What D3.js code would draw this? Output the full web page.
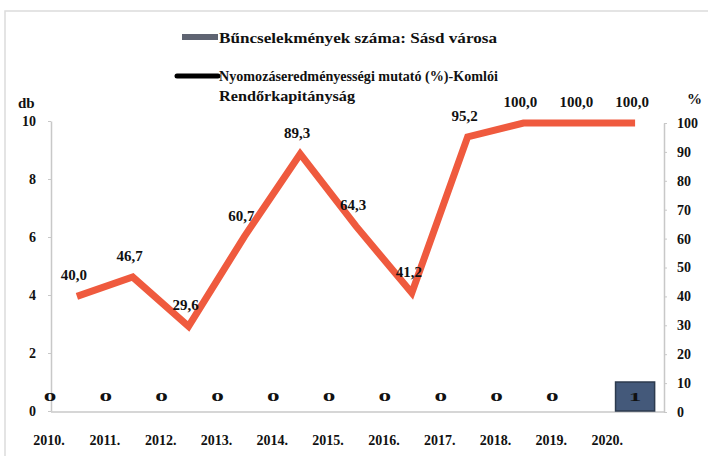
<!DOCTYPE html>
<html>
<head>
<meta charset="utf-8">
<script src="https://cdn.jsdelivr.net/npm/d3@7"></script>
<style>
  body { margin: 0; background: #fff; }
  svg { display: block; font-family: "Liberation Serif", "DejaVu Serif", serif; font-weight: bold; }
</style>
</head>
<body>
<svg width="708" height="456"></svg>
<script>
var years = ["2010.", "2011.", "2012.", "2013.", "2014.", "2015.", "2016.", "2017.", "2018.", "2019.", "2020."];
var crimes = [0, 0, 0, 0, 0, 0, 0, 0, 0, 0, 1];
var rate = [40.0, 46.7, 29.6, 60.7, 89.3, 64.3, 41.2, 95.2, 100.0, 100.0, 100.0];
var leftTicks = [0, 2, 4, 6, 8, 10];
var rightTicks = [0, 10, 20, 30, 40, 50, 60, 70, 80, 90, 100];
var crimeName = "Bűncselekmények száma: Sásd városa";
var rateName = ["Nyomozáseredményességi mutató (%)-Komlói", "Rendőrkapitányság"];

var svg = d3.select("svg");
var lineColor = "#ef5a3e";
var barColor = "#44597a";
var axisColor = "#c8c8c8";

var plotLeft = 51;
var plotRight = 664;
var plotBottom = 412;

var x = d3.scaleBand().domain(years).range([49, 663]);
var yL = d3.scaleLinear().domain([0, 10]).range([411, 121]);
var yR = d3.scaleLinear().domain([0, 100]).range([412, 123]);

// chart frame
svg.append("rect").attr("x", 5).attr("y", 11).attr("width", 720).attr("height", 500)
    .attr("fill", "none").attr("stroke", "#dcdcdc").attr("stroke-width", 1.5);

// axes
var leftAxis = svg.append("g").attr("transform", "translate(" + plotLeft + ",0)")
    .call(d3.axisLeft(yL).tickValues(leftTicks).tickSize(3).tickPadding(12).tickSizeOuter(0));
var rightAxis = svg.append("g").attr("transform", "translate(" + plotRight + ",0)")
    .call(d3.axisRight(yR).tickValues(rightTicks).tickSize(3).tickPadding(10).tickSizeOuter(0));
[leftAxis, rightAxis].forEach(function (a) {
    a.select(".domain").attr("stroke", axisColor).attr("stroke-width", 1.5);
    a.selectAll(".tick line").attr("stroke", axisColor);
    a.selectAll(".tick text").attr("font-size", 14).attr("font-family", "Liberation Serif")
        .attr("font-weight", "bold").attr("fill", "#111");
});
svg.append("line").attr("x1", plotLeft).attr("x2", plotRight).attr("y1", plotBottom).attr("y2", plotBottom)
    .attr("stroke", axisColor).attr("stroke-width", 1.5);

// category labels
svg.selectAll(".xlab").data(years).enter().append("text")
    .attr("x", function (d) { return x(d); })
    .attr("y", 445)
    .attr("text-anchor", "middle")
    .attr("font-size", 14)
    .attr("fill", "#111")
    .text(function (d) { return d; });

// axis titles
svg.append("text").attr("x", 18).attr("y", 108).attr("font-size", 15).attr("fill", "#111").text("db");
svg.append("text").attr("x", 687).attr("y", 104).attr("font-size", 15).attr("fill", "#111").text("%");

// bars
var barW = x.bandwidth() * 0.7;
svg.selectAll(".bar").data(crimes).enter().append("rect")
    .attr("x", function (d, i) { return x(years[i]) + (x.bandwidth() - barW) / 2; })
    .attr("y", function (d) { return yL(d); })
    .attr("width", barW)
    .attr("height", function (d) { return yL(0) - yL(d); })
    .attr("fill", barColor)
    .attr("stroke", "#2c3a4e")
    .attr("stroke-width", 1.5);

// bar labels
svg.selectAll(".blab").data(crimes).enter().append("text")
    .attr("transform", function (d, i) {
        var cx = d > 0 ? x(years[i]) + x.bandwidth() / 2 : x(years[i]) + 1;
        var cy = d > 0 ? (yL(d) + yL(0)) / 2 + 4 : 401;
        return "translate(" + cx + "," + cy + ") scale(1.8,0.85)";
    })
    .attr("text-anchor", "middle")
    .attr("font-size", 14)
    .attr("fill", "#111")
    .text(function (d) { return d; });

// rate line
var line = d3.line()
    .x(function (d, i) { return x(years[i]) + x.bandwidth() / 2; })
    .y(function (d) { return yR(d); });
svg.append("path").datum(rate)
    .attr("d", line)
    .attr("fill", "none")
    .attr("stroke", lineColor)
    .attr("stroke-width", 7)
    .attr("stroke-linejoin", "miter")
    .attr("stroke-linecap", "butt");

svg.selectAll(".rlab").data(rate).enter().append("text")
    .attr("x", function (d, i) { return x(years[i]) + x.bandwidth() / 2 - 3; })
    .attr("y", function (d) { return yR(d) - 16; })
    .attr("text-anchor", "middle")
    .attr("font-size", 15)
    .attr("fill", "#111")
    .text(function (d) { return d.toFixed(1).replace(".", ","); });

// legend
svg.append("rect").attr("x", 182).attr("y", 34).attr("width", 36).attr("height", 6).attr("fill", "#5f6472");
svg.append("text").attr("x", 219).attr("y", 43).attr("font-size", 15).attr("fill", "#111")
    .attr("textLength", 278).attr("lengthAdjust", "spacingAndGlyphs").text(crimeName);
svg.append("line").attr("x1", 177).attr("x2", 218).attr("y1", 76).attr("y2", 76)
    .attr("stroke", "#000").attr("stroke-width", 5).attr("stroke-linecap", "round");
svg.append("text").attr("x", 219).attr("y", 81).attr("font-size", 15).attr("fill", "#111")
    .attr("textLength", 279).attr("lengthAdjust", "spacingAndGlyphs").text(rateName[0]);
svg.append("text").attr("x", 219).attr("y", 101).attr("font-size", 15).attr("fill", "#111")
    .attr("textLength", 136).attr("lengthAdjust", "spacingAndGlyphs").text(rateName[1]);
</script>
</body>
</html>
